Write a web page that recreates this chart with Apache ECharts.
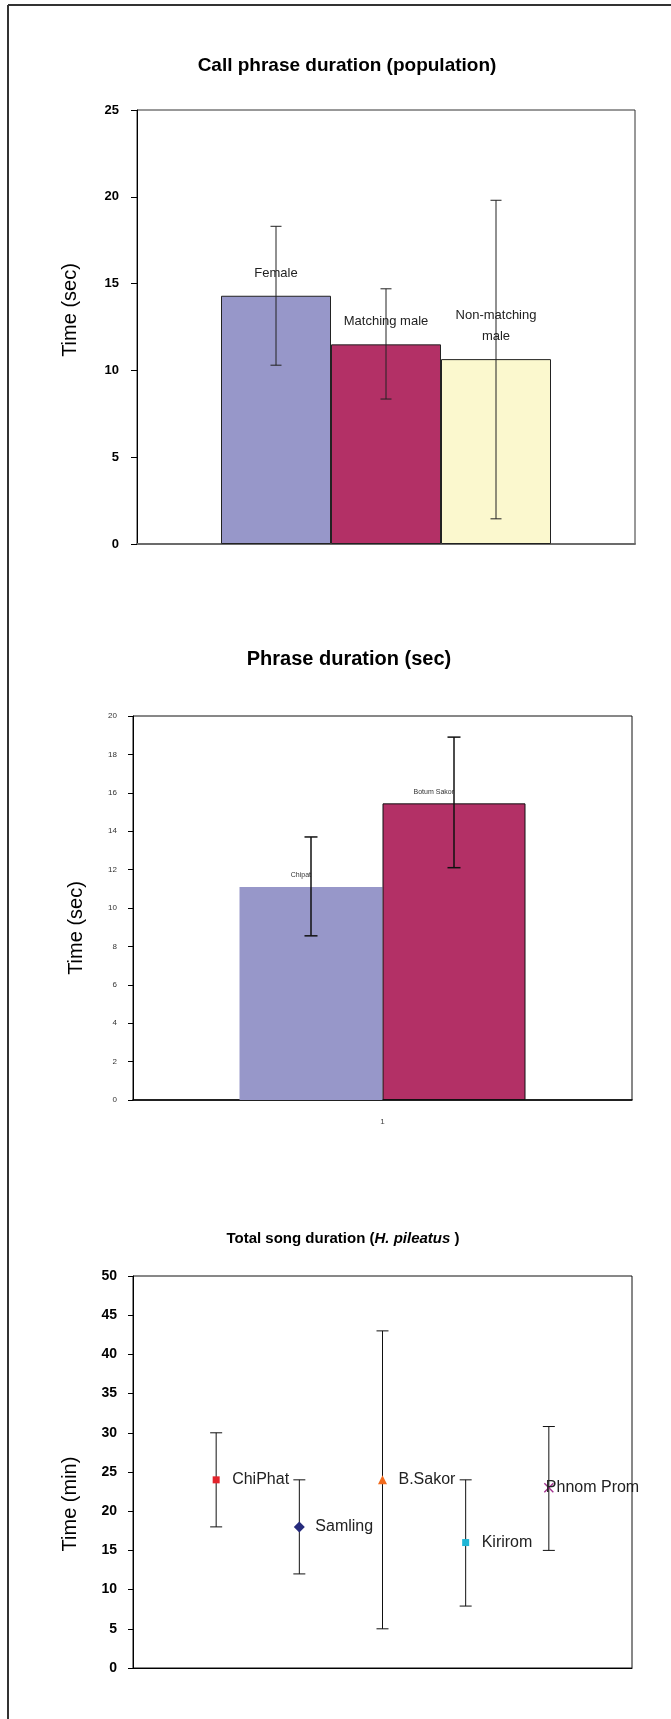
<!DOCTYPE html>
<html>
<head>
<meta charset="utf-8">
<title>Call and song durations</title>
<script src="https://cdn.jsdelivr.net/npm/echarts@6/dist/echarts.min.js"></script>
<style>
  html, body { margin: 0; padding: 0; background: #fff; }
  #chart { width: 671px; height: 1719px; }
</style>
</head>
<body>
<div id="chart"></div>
<script>
// chart 1: call phrase duration by population group
const popGroups = ['Female', 'Matching male', 'Non-matching\nmale']
const popMean = [14.3, 11.5, 10.65]
const popLow = [10.3, 8.35, 1.45]
const popHigh = [18.3, 14.7, 19.8]

// chart 2: phrase duration by site
const siteCategory = ['1']
const siteGroups = ['Chipat', 'Botum Sakor']
const siteMean = [11.1, 15.45]
const siteLow = [8.55, 12.1]
const siteHigh = [13.7, 18.9]

// chart 3: total song duration (H. pileatus)
const songSites = ['ChiPhat', 'Samling', 'B.Sakor', 'Kirirom', 'Phnom Prom']
const songMean = [24, 18, 24, 16, 23]
const songLow = [18, 12, 5, 7.9, 15]
const songHigh = [30, 24, 43, 24, 30.8]

const barColors = ['#9797c9', '#b33066', '#fbf8ce']
const songColors = ['#e3232b', '#262b7c', '#f26b1d', '#1fb6d6', '#a2338f']
const songSymbols = ['rect', 'diamond', 'triangle', 'rect',
  'path://M0,1L1,0L5,4L9,0L10,1L6,5L10,9L9,10L5,6L1,10L0,9L4,5Z']
const songSizes = [7, 11, 9, 7, 10]
const BAR1_W = 110
const BAR2_W = 143

const myChart = echarts.init(document.getElementById('chart'))

function errorSeries(xIdx, rows, capHalf, offsetOf, color, width) {
  return {
    type: 'custom',
    xAxisIndex: xIdx,
    yAxisIndex: xIdx,
    z: 5,
    silent: true,
    encode: { x: 0, y: [1, 2] },
    data: rows,
    renderItem: (params, api) => {
      const lo = api.coord([api.value(0), api.value(1)])
      const hi = api.coord([api.value(0), api.value(2)])
      const x = lo[0] + offsetOf(api.value(3))
      const style = { stroke: color, lineWidth: width }
      return {
        type: 'group',
        children: [
          { type: 'line', shape: { x1: x, y1: lo[1], x2: x, y2: hi[1] }, style },
          { type: 'line', shape: { x1: x - capHalf, y1: lo[1], x2: x + capHalf, y2: lo[1] }, style },
          { type: 'line', shape: { x1: x - capHalf, y1: hi[1], x2: x + capHalf, y2: hi[1] }, style }
        ]
      }
    }
  }
}

const popBars = popGroups.map((g, i) => ({
  type: 'bar',
  name: g,
  xAxisIndex: 0,
  yAxisIndex: 0,
  data: [popMean[i]],
  barWidth: BAR1_W,
  barGap: '0%',
  itemStyle: { color: barColors[i], borderColor: '#222', borderWidth: 1 },
  label: {
    show: true, position: 'top', distance: 12, formatter: g,
    fontSize: 13, color: '#222', lineHeight: 21
  }
}))

const siteBars = siteGroups.map((g, i) => ({
  type: 'bar',
  name: g,
  xAxisIndex: 1,
  yAxisIndex: 1,
  data: [siteMean[i]],
  barWidth: BAR2_W,
  barGap: '0%',
  itemStyle: { color: barColors[i], borderColor: '#111', borderWidth: i === 0 ? 0 : 1 },
  label: {
    show: true, position: 'top', distance: 8, align: 'right', formatter: g,
    fontSize: 7, color: '#333'
  }
}))

const songPoints = songSites.map((s, i) => ({
  type: 'scatter',
  name: s,
  xAxisIndex: 2,
  yAxisIndex: 2,
  z: 6,
  data: [[i + 1, songMean[i]]],
  symbol: songSymbols[i],
  symbolSize: songSizes[i],
  itemStyle: { color: songColors[i], opacity: 1 },
  label: {
    show: true, position: 'inside', align: 'left', verticalAlign: 'middle',
    offset: [i === 4 ? -3 : 16, 0], formatter: s,
    fontSize: 16, color: '#222', textBorderWidth: 0
  }
}))

const yBase = {
  type: 'value',
  nameLocation: 'middle',
  nameRotate: 90,
  splitLine: { show: false },
  axisLine: { show: true, lineStyle: { color: '#000', width: 1 } },
  axisTick: { show: true, length: 6, lineStyle: { color: '#000' } }
}

const option = {
  animation: false,
  textStyle: { fontFamily: 'Liberation Sans, Arial, sans-serif' },
  title: [
    {
      text: 'Call phrase duration (population)', left: 347, top: 56, textAlign: 'center', padding: 0,
      textStyle: { fontSize: 19, fontWeight: 'bold', color: '#000' }
    },
    {
      text: 'Phrase duration (sec)', left: 349, top: 649, textAlign: 'center', padding: 0,
      textStyle: { fontSize: 20, fontWeight: 'bold', color: '#000' }
    },
    {
      text: 'Total song duration ({i|H. pileatus} )', left: 343, top: 1231, textAlign: 'center', padding: 0,
      textStyle: {
        fontSize: 15, fontWeight: 'bold', color: '#000',
        rich: { i: { fontSize: 15, fontWeight: 'bold', fontStyle: 'italic', color: '#000' } }
      }
    }
  ],
  graphic: [
    { type: 'line', shape: { x1: 8, y1: 5, x2: 8, y2: 1719 }, style: { stroke: '#333', lineWidth: 2 } },
    { type: 'line', shape: { x1: 8, y1: 5, x2: 671, y2: 5 }, style: { stroke: '#333', lineWidth: 2 } }
  ],
  grid: [
    { left: 137, top: 110, width: 498, height: 434, show: true, borderColor: '#333', borderWidth: 1 },
    { left: 133, top: 716, width: 499, height: 384, show: true, borderColor: '#111', borderWidth: 1 },
    { left: 133, top: 1276, width: 499, height: 392, show: true, borderColor: '#111', borderWidth: 1 }
  ],
  xAxis: [
    {
      gridIndex: 0, type: 'category', data: [''],
      axisLine: { lineStyle: { color: '#6b6b6b', width: 2 } },
      axisTick: { show: false }, axisLabel: { show: false }
    },
    {
      gridIndex: 1, type: 'category', data: siteCategory,
      axisLine: { lineStyle: { color: '#000', width: 1.5 } },
      axisTick: { show: false }, axisLabel: { fontSize: 8, color: '#444', margin: 18 }
    },
    {
      gridIndex: 2, type: 'value', min: 0, max: 6,
      axisLine: { show: true, onZero: false, lineStyle: { color: '#000' } },
      axisTick: { show: false }, axisLabel: { show: false }, splitLine: { show: false }
    }
  ],
  yAxis: [
    Object.assign({}, yBase, {
      gridIndex: 0, min: 0, max: 25, interval: 5,
      name: 'Time (sec)', nameGap: 57,
      nameTextStyle: { fontSize: 20, color: '#000', padding: [0, 0, 0, 34] },
      axisLabel: { fontSize: 13, fontWeight: 'bold', color: '#000', margin: 18 }
    }),
    Object.assign({}, yBase, {
      gridIndex: 1, min: 0, max: 20, interval: 2,
      name: 'Time (sec)', nameGap: 47,
      nameTextStyle: { fontSize: 20, color: '#000', padding: [0, 40, 0, 0] },
      axisTick: { show: true, length: 5, lineStyle: { color: '#000' } },
      axisLabel: { fontSize: 8, color: '#333', margin: 16 }
    }),
    Object.assign({}, yBase, {
      gridIndex: 2, min: 0, max: 50, interval: 5,
      name: 'Time (min)', nameGap: 53,
      nameTextStyle: { fontSize: 20, color: '#000', padding: [0, 64, 0, 0] },
      axisTick: { show: true, length: 5, lineStyle: { color: '#000' } },
      axisLabel: { fontSize: 14, fontWeight: 'bold', color: '#000', margin: 16 }
    })
  ],
  series: [
    ...popBars,
    errorSeries(0, popGroups.map((g, i) => [0, popLow[i], popHigh[i], i]), 5.5,
      k => (k - 1) * BAR1_W, '#222', 1),
    ...siteBars,
    errorSeries(1, siteGroups.map((g, i) => [0, siteLow[i], siteHigh[i], i]), 6.5,
      k => (k - 0.5) * BAR2_W, '#111', 1.5),
    errorSeries(2, songSites.map((s, i) => [i + 1, songLow[i], songHigh[i], 0]), 6,
      () => 0, '#111', 1),
    ...songPoints
  ]
}

myChart.setOption(option)
</script>
</body>
</html>
